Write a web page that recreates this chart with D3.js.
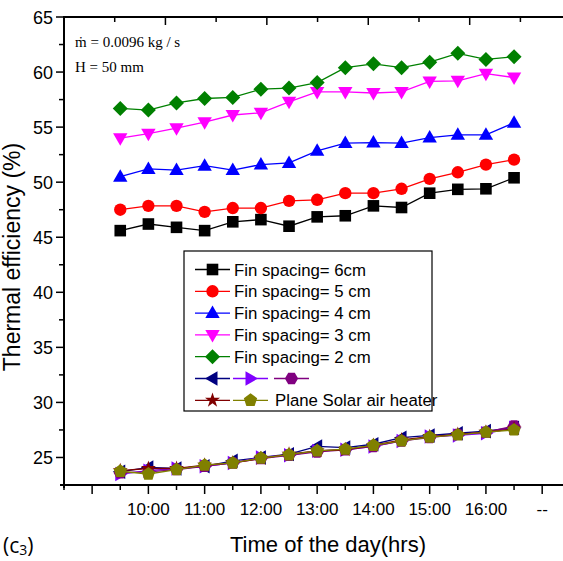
<!DOCTYPE html>
<html>
<head>
<meta charset="utf-8">
<script src="https://cdn.jsdelivr.net/npm/d3@7"></script>
<style>
  body { margin: 0; background: #fff; }
  svg { display: block; font-family: "Liberation Sans", Arial, sans-serif; }
</style>
</head>
<body>
<svg width="563" height="561"></svg>
<script>
// time of day (hours), 9:30 .. 16:30
const hours = [9.5, 10, 10.5, 11, 11.5, 12, 12.5, 13, 13.5, 14, 14.5, 15, 15.5, 16, 16.5];

const fin6 = [45.6, 46.2, 45.9, 45.6, 46.4, 46.6, 46.0, 46.85, 46.95, 47.85, 47.7, 49.0, 49.35, 49.4, 50.4];
const fin5 = [47.5, 47.85, 47.85, 47.3, 47.65, 47.65, 48.3, 48.4, 49.0, 49.0, 49.4, 50.3, 50.9, 51.6, 52.05];
const fin4 = [50.5, 51.2, 51.1, 51.5, 51.1, 51.6, 51.75, 52.85, 53.55, 53.6, 53.55, 54.05, 54.3, 54.3, 55.4];
const fin3 = [54.0, 54.4, 54.9, 55.45, 56.1, 56.3, 57.3, 58.2, 58.2, 58.1, 58.2, 59.15, 59.2, 59.85, 59.5];
const fin2 = [56.7, 56.55, 57.2, 57.6, 57.7, 58.45, 58.55, 59.05, 60.4, 60.75, 60.4, 60.9, 61.7, 61.15, 61.4];
const blankA = [23.7, 24.1, 24.0, 24.2, 24.7, 25.0, 25.3, 26.0, 25.9, 26.2, 26.8, 27.0, 27.2, 27.4, 27.7];
const blankB = [23.5, 23.8, 24.0, 24.2, 24.5, 25.0, 25.2, 25.6, 25.7, 26.0, 26.5, 26.9, 27.0, 27.2, 27.7];
const blankC = [23.6, 23.7, 23.9, 24.2, 24.5, 24.9, 25.2, 25.5, 25.7, 26.0, 26.5, 26.8, 27.1, 27.3, 27.85];
const blankD = [23.8, 24.0, 24.0, 24.3, 24.5, 24.9, 25.3, 25.6, 25.7, 26.1, 26.6, 26.9, 27.1, 27.3, 27.6];
const plane = [23.75, 23.5, 23.9, 24.3, 24.5, 24.95, 25.25, 25.6, 25.75, 26.1, 26.5, 26.85, 27.05, 27.3, 27.5];

const yTicks = [25, 30, 35, 40, 45, 50, 55, 60, 65];
const xLabels = ['10:00', '11:00', '12:00', '13:00', '14:00', '15:00', '16:00', '--'];
const legendText = ['Fin spacing= 6cm', 'Fin spacing= 5 cm', 'Fin spacing= 4 cm',
  'Fin spacing= 3 cm', 'Fin spacing= 2 cm', '', 'Plane Solar air heater'];

const series = [
  { vals: blankA, color: '#000080', shape: 'left' },
  { vals: blankB, color: '#8000ff', shape: 'right' },
  { vals: blankC, color: '#800080', shape: 'hex' },
  { vals: blankD, color: '#800000', shape: 'star' },
  { vals: plane, color: '#808000', shape: 'pent' },
  { vals: fin6, color: '#000000', shape: 'square' },
  { vals: fin5, color: '#ff0000', shape: 'circle' },
  { vals: fin4, color: '#0000ff', shape: 'up' },
  { vals: fin3, color: '#ff00ff', shape: 'down' },
  { vals: fin2, color: '#008000', shape: 'diamond' },
];

const svg = d3.select('svg');

const x = d3.scaleLinear().domain([8.5, 17.37]).range([64, 563]);
const y = d3.scaleLinear().domain([22.5, 65]).range([485, 17]);
const xTop = d3.scaleLinear().domain([0, 9.84]).range([64, 563]);

function poly(n, r, rot) {
  const p = d3.path();
  for (let i = 0; i < n; i++) {
    const a = rot + (i * 2 * Math.PI) / n;
    const px = r * Math.cos(a), py = r * Math.sin(a);
    if (i === 0) p.moveTo(px, py); else p.lineTo(px, py);
  }
  p.closePath();
  return p.toString();
}

function marker(shape) {
  switch (shape) {
    case 'square': return 'M-5.8,-5.8H5.8V5.8H-5.8Z';
    case 'circle': return d3.symbol(d3.symbolCircle, 120)();
    case 'up': return 'M0,-7.5L7.2,5L-7.2,5Z';
    case 'down': return 'M0,7.5L7.2,-5L-7.2,-5Z';
    case 'left': return 'M-7.5,0L5,-7.2L5,7.2Z';
    case 'right': return 'M7.5,0L-5,-7.2L-5,7.2Z';
    case 'diamond': return 'M0,-7.5L7.5,0L0,7.5L-7.5,0Z';
    case 'hex': return poly(6, 6.6, 0);
    case 'pent': return poly(5, 7, -Math.PI / 2);
    case 'star': return d3.symbol(d3.symbolStar, 70)();
  }
}

// axes
const axisLine = (x1, y1, x2, y2) => svg.append('line')
  .attr('x1', x1).attr('y1', y1).attr('x2', x2).attr('y2', y2)
  .attr('stroke', '#000').attr('stroke-width', 2);

axisLine(64, 16, 64, 488);
axisLine(60, 485, 563, 485);
axisLine(63, 17, 563, 17);

// y ticks
const yMinor = d3.range(25, 65.1, 2.5);
svg.append('g').selectAll('line').data(yMinor).join('line')
  .attr('x1', d => (d % 5 === 0 ? 56 : 59)).attr('x2', 64)
  .attr('y1', d => y(d)).attr('y2', d => y(d))
  .attr('stroke', '#000').attr('stroke-width', 1.5);
svg.append('g').selectAll('text').data(yTicks).join('text')
  .attr('x', 53).attr('y', d => y(d) + 6.5)
  .attr('text-anchor', 'end').attr('font-size', 18)
  .text(d => d);

// x ticks
const xt = d3.range(8.5, 17.01, 0.5);
svg.append('g').selectAll('line').data(xt).join('line')
  .attr('x1', d => x(d)).attr('x2', d => x(d))
  .attr('y1', 485).attr('y2', d => (d % 1 === 0 ? 494 : 490))
  .attr('stroke', '#000').attr('stroke-width', 1.5);
svg.append('g').selectAll('text').data(xLabels).join('text')
  .attr('x', (d, i) => x(10 + i)).attr('y', 515)
  .attr('text-anchor', 'middle').attr('font-size', 17)
  .text(d => d);

// top ticks
svg.append('g').selectAll('line').data(d3.range(1, 10)).join('line')
  .attr('x1', d => xTop(d)).attr('x2', d => xTop(d))
  .attr('y1', 17).attr('y2', d => (d % 2 === 0 ? 25 : 22))
  .attr('stroke', '#000').attr('stroke-width', 1.5);

// titles
svg.append('text')
  .attr('transform', 'translate(20,257) rotate(-90)')
  .attr('text-anchor', 'middle').attr('font-size', 23)
  .text('Thermal efficiency (%)');
svg.append('text')
  .attr('x', 328).attr('y', 552)
  .attr('text-anchor', 'middle').attr('font-size', 22)
  .text('Time of the day(hrs)');

const lbl = svg.append('text')
  .attr('x', 3).attr('y', 553)
  .style('font-family', '"Open Sans", "Noto Sans", sans-serif')
  .attr('font-size', 21);
lbl.append('tspan').text('(c');
lbl.append('tspan').attr('font-size', 14).attr('dy', 2).text('3');
lbl.append('tspan').attr('dy', -2).text(')');

const serif = '"Liberation Serif", "Times New Roman", serif';
svg.append('text')
  .attr('x', 75).attr('y', 47)
  .style('font-family', serif)
  .attr('font-size', 15)
  .text('ṁ = 0.0096 kg / s');
svg.append('text')
  .attr('x', 75).attr('y', 72)
  .style('font-family', serif)
  .attr('font-size', 15)
  .text('H = 50 mm');

// series
const line = d3.line().x((d, i) => x(hours[i])).y(d => y(d));
series.forEach((s) => {
  const g = svg.append('g');
  g.append('path')
    .attr('d', line(s.vals))
    .attr('fill', 'none').attr('stroke', s.color).attr('stroke-width', 1.3);
  g.selectAll('path.m').data(s.vals).join('path')
    .attr('class', 'm')
    .attr('transform', (d, i) => `translate(${x(hours[i])},${y(d)})`)
    .attr('d', marker(s.shape))
    .attr('fill', s.color);
});

// legend
const lg = svg.append('g');
lg.append('rect')
  .attr('x', 184).attr('y', 251).attr('width', 248).attr('height', 160)
  .attr('fill', '#fff').attr('stroke', '#000').attr('stroke-width', 1.2);

const rows = [
  [{ s: 5, x0: 195 }], [{ s: 6, x0: 195 }], [{ s: 7, x0: 195 }],
  [{ s: 8, x0: 195 }], [{ s: 9, x0: 195 }],
  [{ s: 0, x0: 195 }, { s: 1, x0: 233 }, { s: 2, x0: 274 }],
  [{ s: 3, x0: 195 }, { s: 4, x0: 233 }],
];
const textX = [234, 234, 234, 234, 234, 0, 275];
rows.forEach((row, r) => {
  const cy = 269.5 + r * 21.8;
  row.forEach((it) => {
    const s = series[it.s];
    lg.append('line')
      .attr('x1', it.x0).attr('x2', it.x0 + 35).attr('y1', cy).attr('y2', cy)
      .attr('stroke', s.color).attr('stroke-width', 1.3);
    lg.append('path')
      .attr('transform', `translate(${it.x0 + 17.5},${cy})`)
      .attr('d', marker(s.shape)).attr('fill', s.color);
  });
  if (legendText[r]) {
    lg.append('text')
      .attr('x', textX[r]).attr('y', cy + 6)
      .attr('font-size', 16.8)
      .text(legendText[r]);
  }
});
</script>
</body>
</html>
